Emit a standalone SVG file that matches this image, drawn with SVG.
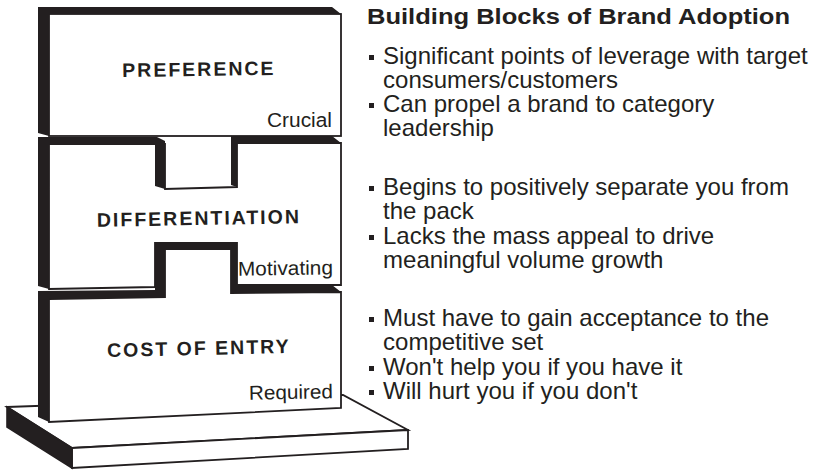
<svg xmlns="http://www.w3.org/2000/svg" width="817" height="470" viewBox="0 0 817 470">
<style>
.face{fill:#ffffff;stroke:#231f20;stroke-width:1.8;stroke-linejoin:miter}
.side{fill:#231f20}
.sidel{fill:#231f20;stroke:#231f20;stroke-width:1.6;stroke-linejoin:miter}
.lbl{font-family:"Liberation Sans",Arial,Helvetica,sans-serif;font-weight:bold;font-size:19.5px;fill:#231f20;letter-spacing:2px;text-anchor:middle}
.tag{font-family:"Liberation Sans",Arial,Helvetica,sans-serif;font-size:20px;fill:#231f20}
.title{font-family:"Liberation Sans",Arial,Helvetica,sans-serif;font-weight:bold;font-size:22px;fill:#231f20}
.body{font-family:"Liberation Sans",Arial,Helvetica,sans-serif;font-size:23px;fill:#231f20}
.bul{fill:#231f20}
</style>
<rect width="817" height="470" fill="#ffffff"/>
<g id="base">
<polygon class="face" points="7,407 343,395 408,430 72,448"/>
<polygon class="face" points="72,448 408,430 408,449 72,468"/>
<polygon class="sidel" points="7,407 72,448 72,468 7,427"/>
</g>
<g id="block-cost-of-entry">
<polygon class="face" points="49,299 165,297 165,249 231,249 231,293 341,292 341,408 49,422"/>
<polygon class="side" points="38,291 155,290 155,243 237,243 237,285 332,285 341,292 231,293 231,249 165,249 165,297 49,299 49,422 38,417"/>
<text class="lbl" x="199" y="355" transform="rotate(-1.3 199 355)">COST OF ENTRY</text>
<text class="tag" x="249" y="399" textLength="84" lengthAdjust="spacingAndGlyphs" transform="rotate(-1 290 399)">Required</text>
</g>
<g id="block-differentiation">
<polygon class="face" points="49,144 165,144 165,189 237,187 237,143 341,143 341,285 237,285 237,243 155,243 155,287 49,289"/>
<polygon class="side" points="38,137 157,137 165,141 165,189 155,186 155,144 49,144 49,289 38,286"/>
<polygon class="side" points="231,136 332,136 341,143 237,143 237,187 231,185"/>
<text class="lbl" x="199" y="225" transform="rotate(-1 199 225)">DIFFERENTIATION</text>
<text class="tag" x="238" y="275" textLength="95" lengthAdjust="spacingAndGlyphs" transform="rotate(-0.8 285 275)">Motivating</text>
</g>
<g id="block-preference">
<rect class="face" x="49" y="14" width="292" height="122"/>
<polygon class="side" points="38,7 332,7 341,14 49,14 49,136 38,133"/>
<text class="lbl" x="199" y="76" transform="rotate(-0.8 199 76)">PREFERENCE</text>
<text class="tag" x="267" y="127" textLength="65" lengthAdjust="spacingAndGlyphs">Crucial</text>
</g>
<g id="connectors"/>
<g id="description">
<text class="title" x="367" y="24" textLength="423" lengthAdjust="spacingAndGlyphs">Building Blocks of Brand Adoption</text>
<g class="bul">
<rect x="369" y="55" width="5" height="5"/>
<rect x="369" y="103" width="5" height="5"/>
<rect x="369" y="186" width="5" height="5"/>
<rect x="369" y="235" width="5" height="5"/>
<rect x="369" y="317" width="5" height="5"/>
<rect x="369" y="366" width="5" height="5"/>
<rect x="369" y="390" width="5" height="5"/>
</g>
<g transform="translate(383 0) scale(1.045 1)">
<text class="body" x="0" y="64">Significant points of leverage with target</text>
<text class="body" x="0" y="88">consumers/customers</text>
<text class="body" x="0" y="112">Can propel a brand to category</text>
<text class="body" x="0" y="136">leadership</text>
<text class="body" x="0" y="195">Begins to positively separate you from</text>
<text class="body" x="0" y="219">the pack</text>
<text class="body" x="0" y="244">Lacks the mass appeal to drive</text>
<text class="body" x="0" y="268">meaningful volume growth</text>
<text class="body" x="0" y="326">Must have to gain acceptance to the</text>
<text class="body" x="0" y="350">competitive set</text>
<text class="body" x="0" y="375">Won't help you if you have it</text>
<text class="body" x="0" y="399">Will hurt you if you don't</text>
</g>
</g>
</svg>
